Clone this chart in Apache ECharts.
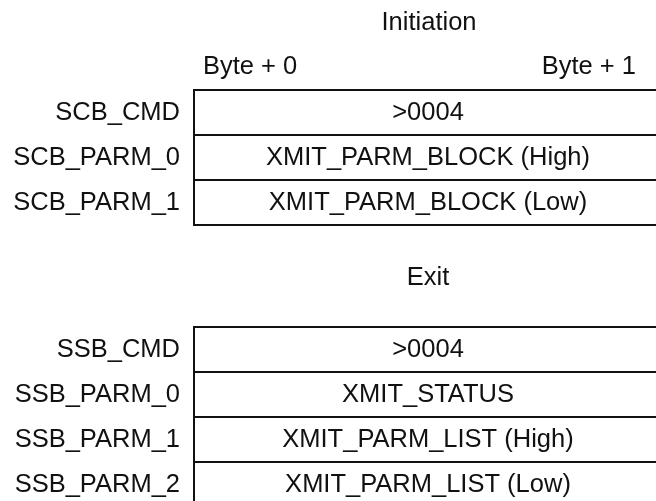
<!DOCTYPE html>
<html>
<head>
<meta charset="utf-8">
<script src="https://cdn.jsdelivr.net/npm/echarts@6/dist/echarts.min.js"></script>
<style>
  html, body { margin: 0; padding: 0; background: #fff; }
  #chart { width: 656px; height: 501px; }
</style>
</head>
<body>
<div id="chart"></div>
<script>
// ---- data ----
const sectionTitles = ['Initiation', 'Exit'];
const byteHeaders = ['Byte + 0', 'Byte + 1'];
const initRows = ['SCB_CMD', 'SCB_PARM_0', 'SCB_PARM_1'];
const initFields = ['>0004', 'XMIT_PARM_BLOCK (High)', 'XMIT_PARM_BLOCK (Low)'];
const exitRows = ['SSB_CMD', 'SSB_PARM_0', 'SSB_PARM_1', 'SSB_PARM_2'];
const exitFields = ['>0004', 'XMIT_STATUS', 'XMIT_PARM_LIST (High)', 'XMIT_PARM_LIST (Low)'];
const wordStart = 0;   // byte offset where each word starts
const wordEnd = 2;     // byte offset where each word ends (2 bytes)

// ---- styling ----
const FONT = 'Liberation Sans, Arial, Helvetica, sans-serif';
const FS = 25.5;
const INK = '#111';

function makeRenderer(fields) {
  return function (params, api) {
    const row = api.value(2);
    const s = api.coord([api.value(0), row]);
    const e = api.coord([api.value(1), row]);
    const h = api.size([0, 1])[1];
    return {
      type: 'rect',
      shape: { x: s[0], y: s[1] - h / 2, width: e[0] - s[0], height: h },
      style: { fill: '#fff', stroke: INK, lineWidth: 2 },
      textContent: {
        style: { text: fields[params.dataIndex], fontSize: FS, fontFamily: FONT, fill: INK }
      },
      textConfig: { position: 'inside' }
    };
  };
}

function rowsData(rows) {
  return rows.map((r, i) => [wordStart, wordEnd, i]);
}

const chart = echarts.init(document.getElementById('chart'), null, { renderer: 'canvas' });

const yAxisCommon = {
  type: 'category',
  inverse: true,
  axisLine: { show: false },
  axisTick: { show: false },
  splitLine: { show: false },
  axisLabel: { fontSize: FS, fontFamily: FONT, color: INK, margin: 14 }
};

chart.setOption({
  animation: false,
  backgroundColor: '#fff',
  grid: [
    { left: 194, top: 90, width: 468, height: 135, outerBoundsMode: 'none', containLabel: false },
    { left: 194, top: 327, width: 468, height: 180, outerBoundsMode: 'none', containLabel: false }
  ],
  xAxis: [
    { gridIndex: 0, type: 'value', min: wordStart, max: wordEnd, show: false },
    { gridIndex: 1, type: 'value', min: wordStart, max: wordEnd, show: false }
  ],
  yAxis: [
    Object.assign({ gridIndex: 0, data: initRows }, yAxisCommon),
    Object.assign({ gridIndex: 1, data: exitRows }, yAxisCommon)
  ],
  graphic: [
    { type: 'text', x: 429, y: 23, style: { text: sectionTitles[0], fontSize: FS, fontFamily: FONT, fill: INK, align: 'center', verticalAlign: 'middle' } },
    { type: 'text', x: 203, y: 67, style: { text: byteHeaders[0], fontSize: FS, fontFamily: FONT, fill: INK, align: 'left', verticalAlign: 'middle' } },
    { type: 'text', x: 636, y: 67, style: { text: byteHeaders[1], fontSize: FS, fontFamily: FONT, fill: INK, align: 'right', verticalAlign: 'middle' } },
    { type: 'text', x: 428, y: 278, style: { text: sectionTitles[1], fontSize: FS, fontFamily: FONT, fill: INK, align: 'center', verticalAlign: 'middle' } }
  ],
  series: [
    {
      type: 'custom', xAxisIndex: 0, yAxisIndex: 0, clip: false,
      encode: { x: [0, 1], y: 2 },
      data: rowsData(initRows),
      renderItem: makeRenderer(initFields)
    },
    {
      type: 'custom', xAxisIndex: 1, yAxisIndex: 1, clip: false,
      encode: { x: [0, 1], y: 2 },
      data: rowsData(exitRows),
      renderItem: makeRenderer(exitFields)
    }
  ]
});
</script>
</body>
</html>
